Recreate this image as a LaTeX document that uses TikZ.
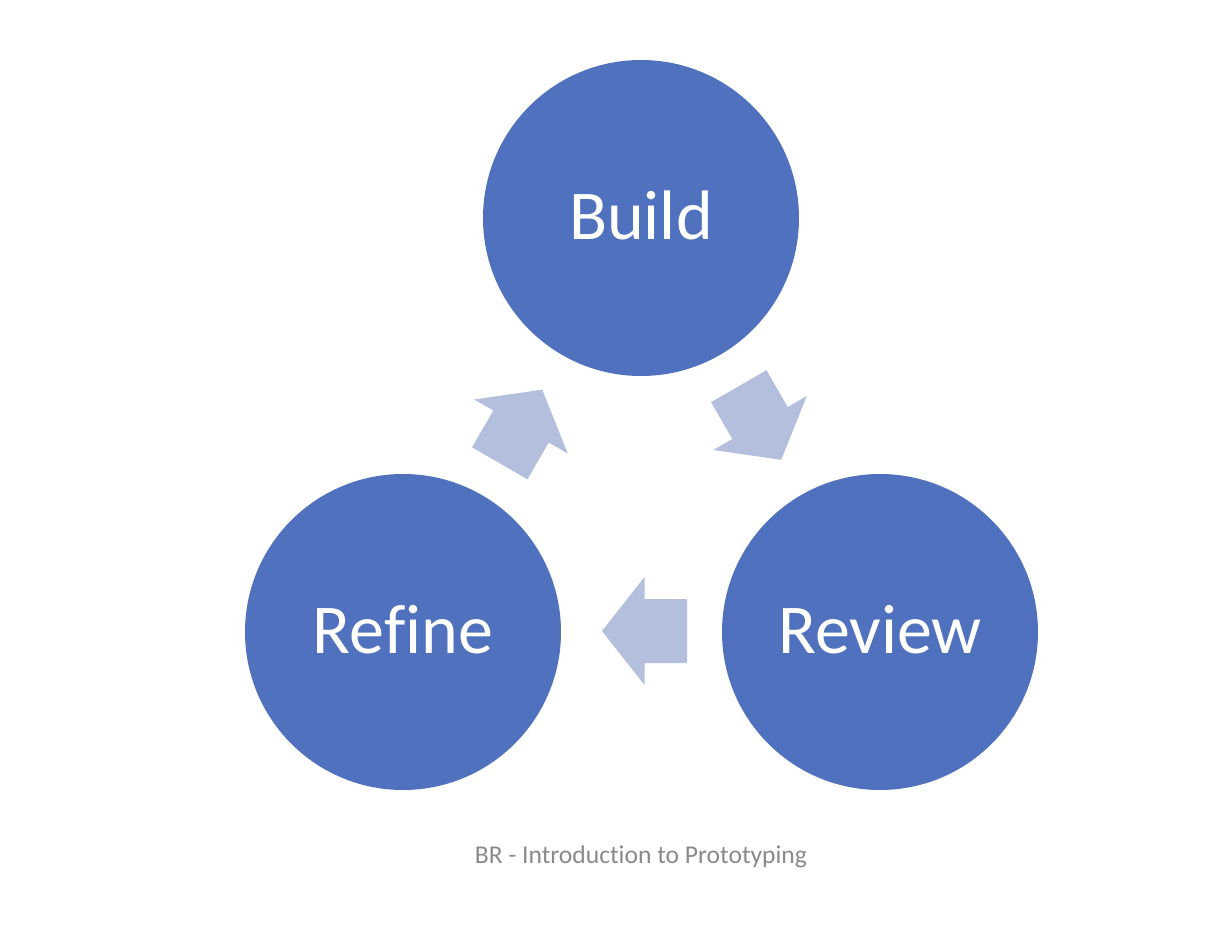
\documentclass[tikz,border=0pt]{standalone}
\usepackage{fontspec}
\setmainfont[Ligatures=NoCommon]{Carlito}
\definecolor{circblue}{HTML}{5072BE}
\definecolor{arrowblue}{HTML}{B4BFDD}
\definecolor{capgray}{HTML}{8A8A8A}
\begin{document}
\begin{tikzpicture}[x=1pt,y=-1pt,
  stage/.style={circle, fill=circblue, minimum size=316pt, inner sep=0pt,
    text=white, font=\fontsize{70}{84}\selectfont, text height=42pt, text depth=0pt},
  flow/.style={fill=arrowblue},
  blockarrow/.pic={\fill[flow] (-42.5,-32) -- (0,-32) -- (0,-54) -- (42.5,0) -- (0,54) -- (0,32) -- (-42.5,32) -- cycle;}]
\fill[white] (0,0) rectangle (1208,934);
\useasboundingbox (0,0) rectangle (1208,934);
\node[stage] (build) at (641,218) {Build};
\node[stage] (review) at (880,632) {Review};
\node[stage] (refine) at (403,632) {Refine};
\pic[rotate=-60] (a1) at (760,423) {blockarrow};
\pic[rotate=180] (a2) at (644.5,631) {blockarrow};
\pic[rotate=60] (a3) at (521,426.5) {blockarrow};
\node[font=\fontsize{25.6}{30}\selectfont, text=capgray, anchor=base, inner sep=0pt] (caption) at (641,863) {BR - Introduction to Prototyping};
\end{tikzpicture}
\end{document}
